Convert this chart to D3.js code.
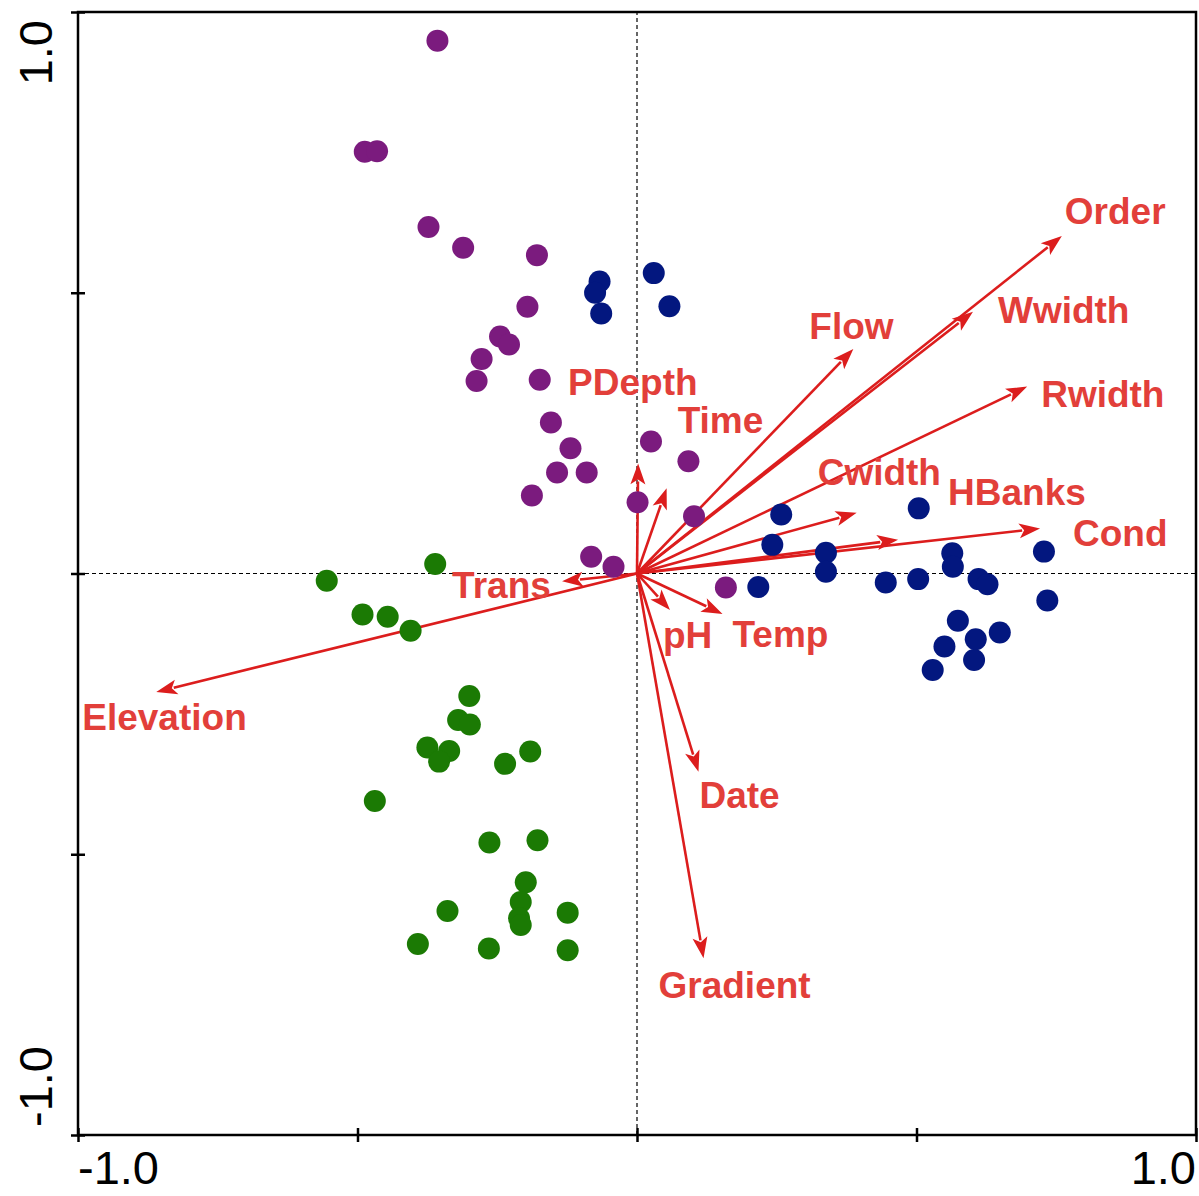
<!DOCTYPE html>
<html>
<head>
<meta charset="utf-8">
<script src="https://cdn.jsdelivr.net/npm/d3@7"></script>
<style>
  body { margin: 0; background: #fff; }
  svg text { font-family: "Liberation Sans", Arial, sans-serif; }
</style>
</head>
<body>
<svg id="chart" width="1199" height="1196"></svg>
<script>

// ---- data (biplot scores, axis 1 / axis 2) ----
const varNames = ["Order", "Wwidth", "Flow", "Rwidth", "Cwidth", "HBanks", "Cond",
                  "PDepth", "Time", "Trans", "Elevation", "pH", "Temp", "Date", "Gradient"]
const varX = [0.760, 0.601, 0.387, 0.698, 0.393, 0.467, 0.721,
              0.002, 0.053, -0.134, -0.860, 0.059, 0.153, 0.110, 0.119]
const varY = [0.601, 0.466, 0.400, 0.333, 0.108, 0.060, 0.080,
              0.196, 0.152, -0.014, -0.211, -0.065, -0.072, -0.353, -0.685]

const purpleX = [-0.357, -0.487, -0.465, -0.373, -0.311, -0.179, -0.196, -0.245, -0.229, -0.278,
                 -0.287, -0.174, -0.154, -0.119, -0.143, -0.090, -0.188, 0.025, 0.092, 0.001,
                 0.102, -0.082, -0.042, 0.159]
const purpleY = [0.949, 0.751, 0.752, 0.617, 0.580, 0.567, 0.475, 0.422, 0.408, 0.382,
                 0.343, 0.345, 0.269, 0.223, 0.180, 0.180, 0.139, 0.235, 0.200, 0.127,
                 0.102, 0.030, 0.012, -0.025]

const navyX = [-0.067, -0.075, -0.064, 0.030, 0.058, 0.258, 0.242, 0.217, 0.338, 0.338,
               0.504, 0.445, 0.503, 0.564, 0.565, 0.611, 0.627, 0.728, 0.734, 0.574,
               0.649, 0.606, 0.550, 0.603, 0.529]
const navyY = [0.520, 0.500, 0.463, 0.535, 0.476, 0.105, 0.051, -0.024, 0.037, 0.003,
               0.116, -0.016, -0.010, 0.036, 0.012, -0.010, -0.019, 0.039, -0.048, -0.084,
               -0.105, -0.117, -0.130, -0.154, -0.172]

const greenX = [-0.555, -0.361, -0.491, -0.446, -0.405, -0.300, -0.320, -0.299, -0.375, -0.336,
                -0.354, -0.236, -0.191, -0.469, -0.264, -0.178, -0.199, -0.208, -0.211, -0.208,
                -0.339, -0.124, -0.392, -0.265, -0.124]
const greenY = [-0.013, 0.017, -0.073, -0.077, -0.102, -0.218, -0.261, -0.269, -0.310, -0.316,
                -0.335, -0.339, -0.317, -0.405, -0.479, -0.475, -0.550, -0.585, -0.614, -0.626,
                -0.601, -0.604, -0.660, -0.668, -0.671]

const tickValues = [-1, -0.5, 0, 0.5, 1]

// label placement relative to arrow tip (px): [dx to text start, dy to baseline]
const labelNudge = {
  Order: [3, -12], Wwidth: [25, 11], Flow: [-44, -10], Rwidth: [14, 20],
  Cwidth: [-39, -28], HBanks: [50, -35], Cond: [33, 17], PDepth: [-70, -68],
  Time: [11, -55], Trans: [-110, 17], Elevation: [-74, 38], pH: [-7, 38],
  Temp: [10, 33], Date: [1, 36], Gradient: [-45, 40]
}

const arrowColor = "#dc1d1d"
const labelColor = "#e23f3a"

const svg = d3.select("#chart")

const x = d3.scaleLinear().domain([-1, 1]).range([78, 1196])
const y = d3.scaleLinear().domain([-1, 1]).range([1135, 12])

// dotted zero lines
svg.append("line")
   .attr("x1", x(-1)).attr("x2", x(1))
   .attr("y1", y(0)).attr("y2", y(0))
   .attr("stroke", "#000").attr("stroke-width", 1.2)
   .attr("stroke-dasharray", "4,3")
svg.append("line")
   .attr("x1", x(0)).attr("x2", x(0))
   .attr("y1", y(-1)).attr("y2", y(1))
   .attr("stroke", "#000").attr("stroke-width", 1.2)
   .attr("stroke-dasharray", "4,3")

// environmental arrows
const vars = varNames.map((n, i) => ({ name: n, x: varX[i], y: varY[i] }))
const headLen = 21, headHalf = 7.5

const arrows = svg.append("g")
vars.forEach(v => {
  let x0 = x(0), y0 = y(0), x1 = x(v.x), y1 = y(v.y)
  let len = Math.hypot(x1 - x0, y1 - y0)
  let ux = (x1 - x0) / len, uy = (y1 - y0) / len
  let bx = x1 - ux * headLen, by = y1 - uy * headLen
  arrows.append("line")
        .attr("x1", x0).attr("y1", y0)
        .attr("x2", bx + ux * 3).attr("y2", by + uy * 3)
        .attr("stroke", arrowColor).attr("stroke-width", 2.6)
  arrows.append("path")
        .attr("d", "M" + x1 + "," + y1 +
                   "L" + (bx - uy * headHalf) + "," + (by + ux * headHalf) +
                   "L" + (bx + ux * 5) + "," + (by + uy * 5) +
                   "L" + (bx + uy * headHalf) + "," + (by - ux * headHalf) + "Z")
        .attr("fill", arrowColor)
})

// sample points
function drawPoints(xs, ys, color) {
  svg.append("g")
     .selectAll("circle")
     .data(xs.map((d, i) => [d, ys[i]]))
     .enter()
     .append("circle")
     .attr("cx", d => x(d[0]))
     .attr("cy", d => y(d[1]))
     .attr("r", 11)
     .attr("fill", color)
}
drawPoints(purpleX, purpleY, "#7b1b7e")
drawPoints(navyX, navyY, "#03177f")
drawPoints(greenX, greenY, "#1b7a04")

// arrow labels
svg.append("g")
   .selectAll("text")
   .data(vars)
   .enter()
   .append("text")
   .attr("x", d => x(d.x) + labelNudge[d.name][0])
   .attr("y", d => y(d.y) + labelNudge[d.name][1])
   .attr("font-size", 37)
   .attr("font-weight", "bold")
   .attr("fill", labelColor)
   .text(d => d.name)

// frame
svg.append("rect")
   .attr("x", x(-1)).attr("y", y(1))
   .attr("width", x(1) - x(-1)).attr("height", y(-1) - y(1))
   .attr("fill", "none").attr("stroke", "#000").attr("stroke-width", 2.5)

// axes: ticks crossing the frame line
const xAxis = svg.append("g")
   .attr("transform", "translate(0," + y(-1) + ")")
   .call(d3.axisBottom(x).tickValues(tickValues).tickSize(7).tickFormat(""))
xAxis.select(".domain").remove()
xAxis.selectAll(".tick line").attr("y1", -7).attr("y2", 7).attr("stroke-width", 2.5)

const yAxis = svg.append("g")
   .attr("transform", "translate(" + x(-1) + ",0)")
   .call(d3.axisLeft(y).tickValues(tickValues).tickSize(7).tickFormat(""))
yAxis.select(".domain").remove()
yAxis.selectAll(".tick line").attr("x1", -7).attr("x2", 7).attr("stroke-width", 2.5)

// tick labels, only the ends
svg.append("text")
   .attr("x", x(-1)).attr("y", 1184)
   .attr("font-size", 47).attr("text-anchor", "start")
   .text("-1.0")
svg.append("text")
   .attr("x", x(1)).attr("y", 1184)
   .attr("font-size", 47).attr("text-anchor", "end")
   .text("1.0")
svg.append("text")
   .attr("transform", "translate(52," + (y(1) + 8) + ") rotate(-90)")
   .attr("font-size", 47).attr("text-anchor", "end")
   .text("1.0")
svg.append("text")
   .attr("transform", "translate(52," + (y(-1) - 8) + ") rotate(-90)")
   .attr("font-size", 47).attr("text-anchor", "start")
   .text("-1.0")

</script>
</body>
</html>
